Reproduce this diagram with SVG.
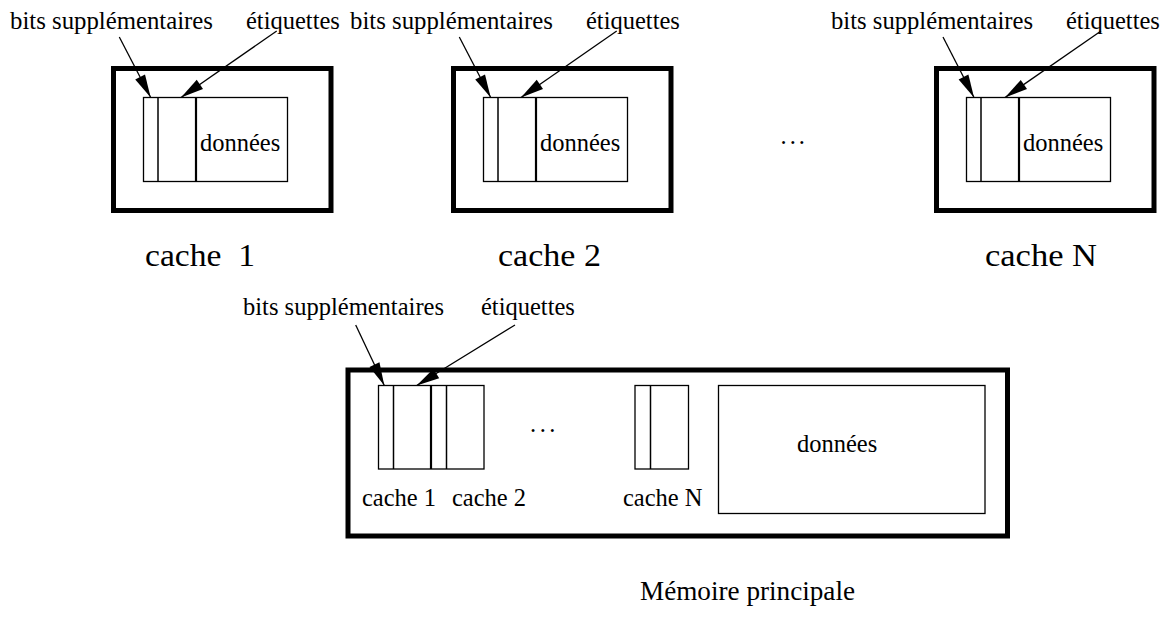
<svg xmlns="http://www.w3.org/2000/svg" width="1170" height="618" viewBox="0 0 1170 618">
<style>
text{font-family:"Liberation Serif","Times New Roman",serif;fill:#000}
.s{font-size:24.5px}
.b{font-size:32px}
.outer{fill:#fff;stroke:#000;stroke-width:5}
.inner{fill:#fff;stroke:#000;stroke-width:1.3}
.div{stroke:#000;stroke-width:1.5;fill:none}
.divb{stroke:#000;stroke-width:2.2;fill:none}
.arr{stroke:#000;stroke-width:1.3;fill:none;marker-end:url(#ah)}
</style>
<defs>
<marker id="ah" markerUnits="userSpaceOnUse" markerWidth="24" markerHeight="12" refX="23" refY="5.5" orient="auto" overflow="visible">
<path d="M0,0 L23,5.5 L0,11 Z" fill="#000"/>
</marker>
</defs>
<rect width="1170" height="618" fill="#fff"/>

<g id="cache1">
<rect class="outer" x="113.5" y="68.5" width="217.5" height="142"/>
<rect class="inner" x="143.5" y="97.5" width="144" height="84"/>
<line class="div" x1="158" y1="97.5" x2="158" y2="181.5"/>
<line class="divb" x1="196" y1="97.5" x2="196" y2="181.5"/>
<text class="s" x="200" y="150.5">données</text>
<text class="s" x="10" y="28.5" textLength="203" lengthAdjust="spacingAndGlyphs">bits supplémentaires</text>
<text class="s" x="246" y="28.5">étiquettes</text>
<text class="b" x="145" y="266" textLength="110" lengthAdjust="spacingAndGlyphs" style="white-space:pre">cache  1</text>
</g>

<g id="cache2">
<rect class="outer" x="453.5" y="68.5" width="217.5" height="142"/>
<rect class="inner" x="483.5" y="97.5" width="144" height="84"/>
<line class="div" x1="498" y1="97.5" x2="498" y2="181.5"/>
<line class="divb" x1="536" y1="97.5" x2="536" y2="181.5"/>
<text class="s" x="540" y="150.5">données</text>
<text class="s" x="350" y="28.5" textLength="203" lengthAdjust="spacingAndGlyphs">bits supplémentaires</text>
<text class="s" x="586" y="28.5">étiquettes</text>
<text class="b" x="498" y="266" textLength="103" lengthAdjust="spacingAndGlyphs" style="white-space:pre">cache 2</text>
</g>

<g id="ellipsis-top">
<text class="s" x="780.5" y="143.5" letter-spacing="3">...</text>
</g>

<g id="cacheN">
<rect class="outer" x="936.5" y="68.5" width="217.5" height="142"/>
<rect class="inner" x="966.5" y="97.5" width="144" height="84"/>
<line class="div" x1="981" y1="97.5" x2="981" y2="181.5"/>
<line class="divb" x1="1019" y1="97.5" x2="1019" y2="181.5"/>
<text class="s" x="1023" y="150.5">données</text>
<text class="s" x="831" y="28.5" textLength="202" lengthAdjust="spacingAndGlyphs">bits supplémentaires</text>
<text class="s" x="1066" y="28.5">étiquettes</text>
<text class="b" x="985" y="266" textLength="112" lengthAdjust="spacingAndGlyphs">cache N</text>
</g>

<g id="memoire">
<rect class="outer" x="348" y="370" width="659.5" height="166"/>
<rect class="inner" x="378.5" y="385.5" width="105.5" height="83.5"/>
<line class="div" x1="393.5" y1="385.5" x2="393.5" y2="469"/>
<line class="divb" x1="431" y1="385.5" x2="431" y2="469"/>
<line class="div" x1="446.5" y1="385.5" x2="446.5" y2="469"/>
<text class="s" x="530" y="432" letter-spacing="3.5">...</text>
<rect class="inner" x="635" y="385.5" width="53.5" height="83.5"/>
<line class="div" x1="650.5" y1="385.5" x2="650.5" y2="469"/>
<rect class="inner" x="718.5" y="385.5" width="266.5" height="128"/>
<text class="s" x="797" y="452">données</text>
<text class="s" x="362" y="505.5">cache 1</text>
<text class="s" x="452" y="505.5">cache 2</text>
<text class="s" x="623" y="505.5">cache N</text>
<text class="s" x="243" y="315" textLength="201" lengthAdjust="spacingAndGlyphs">bits supplémentaires</text>
<text class="s" x="481" y="315">étiquettes</text>
<text x="640" y="600" font-size="27" textLength="215" lengthAdjust="spacingAndGlyphs">Mémoire principale</text>
</g>

<g id="connectors">
<line class="arr" x1="119.3" y1="37" x2="150.7" y2="97.5"/>
<line class="arr" x1="276.7" y1="31" x2="181" y2="97.5"/>
<line class="arr" x1="459.3" y1="37" x2="490.7" y2="97.5"/>
<line class="arr" x1="616.7" y1="31" x2="521" y2="97.5"/>
<line class="arr" x1="943" y1="37" x2="974" y2="97.5"/>
<line class="arr" x1="1101" y1="31" x2="1005" y2="97.5"/>
<line class="arr" x1="355.7" y1="325" x2="384.3" y2="385.5"/>
<line class="arr" x1="515" y1="325" x2="416.7" y2="385.5"/>
</g>
</svg>
